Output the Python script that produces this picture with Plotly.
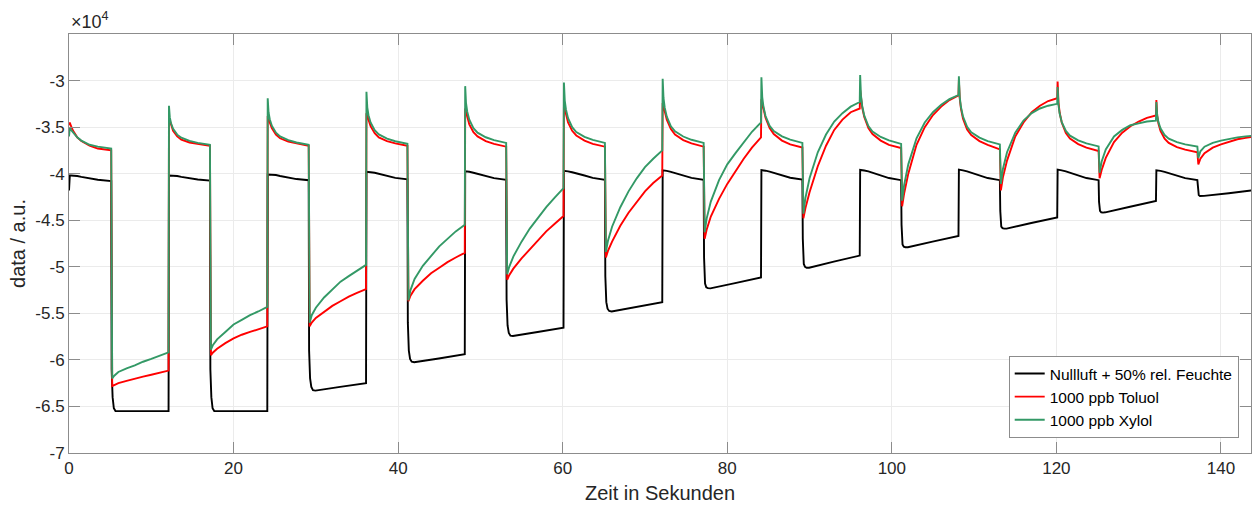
import plotly.graph_objects as go

# ---------------- data (values in units of 1e4 a.u.) ----------------
# switching times (s)
high_start = [0.0, 12.15, 24.15, 36.15, 48.15, 60.15, 72.15, 84.15, 96.15, 108.15, 120.15, 132.15]
t_drop = [5.15, 17.15, 29.15, 41.15, 53.15, 65.15, 77.15, 89.15, 101.15, 113.15, 125.15, 137.15]
x_max = 143.65

# sample offsets inside each phase (s)
high_offsets = [0, 0.1, 0.25, 0.5, 1, 1.5, 2.5, 3.5]          # last sample taken at the drop
low_offsets = [0.1, 0.35, 0.85, 1.85, 2.85, 3.85, 4.85, 5.85, 6.95]
black_low_offsets = [0.03, 0.15, 0.3, 0.5, 0.8, 3.8, 6.95]

# Nullluft + 50% rel. Feuchte
black_high = [
    [-4.18, -4.02, -4.02, -4.02, -4.025, -4.035, -4.05, -4.065, -4.08],
    [-4.02, -4.02, -4.02, -4.02, -4.025, -4.035, -4.05, -4.062, -4.075],
    [-4.01, -4.01, -4.01, -4.01, -4.015, -4.025, -4.045, -4.058, -4.07],
    [-3.98, -3.98, -3.982, -3.985, -3.99, -4.00, -4.025, -4.045, -4.06],
    [-3.975, -3.975, -3.977, -3.98, -3.99, -4.00, -4.025, -4.048, -4.065],
    [-3.97, -3.97, -3.972, -3.975, -3.985, -3.995, -4.02, -4.045, -4.065],
    [-3.965, -3.965, -3.967, -3.97, -3.98, -3.992, -4.02, -4.045, -4.065],
    [-3.962, -3.962, -3.964, -3.968, -3.978, -3.99, -4.018, -4.044, -4.064],
    [-3.96, -3.96, -3.962, -3.966, -3.976, -3.99, -4.02, -4.047, -4.07],
    [-3.957, -3.957, -3.96, -3.964, -3.975, -3.99, -4.02, -4.047, -4.07],
    [-3.957, -3.957, -3.96, -3.964, -3.975, -3.99, -4.02, -4.047, -4.07],
    [-3.964, -3.964, -3.966, -3.97, -3.98, -3.993, -4.022, -4.048, -4.07],
]
black_low = [
    [-6.10, -6.40, -6.52, -6.55, -6.55, -6.55, -6.55],
    [-6.10, -6.40, -6.52, -6.55, -6.55, -6.55, -6.55],
    [-5.90, -6.20, -6.29, -6.325, -6.33, -6.29, -6.25],
    [-5.60, -5.90, -5.99, -6.02, -6.025, -5.985, -5.94],
    [-5.35, -5.63, -5.71, -5.74, -5.743, -5.70, -5.654],
    [-5.10, -5.38, -5.45, -5.475, -5.48, -5.43, -5.38],
    [-4.90, -5.18, -5.22, -5.23, -5.232, -5.175, -5.114],
    [-4.70, -4.97, -5.00, -5.01, -5.01, -4.945, -4.88],
    [-4.55, -4.76, -4.785, -4.79, -4.79, -4.73, -4.67],
    [-4.40, -4.57, -4.585, -4.59, -4.59, -4.53, -4.47],
    [-4.30, -4.40, -4.415, -4.418, -4.415, -4.355, -4.293],
    [-4.15, -4.23, -4.24, -4.24, -4.238, -4.21, -4.175],
]

# 1000 ppb Toluol
toluol_high = [
    [-3.48, -3.45, -3.49, -3.54, -3.61, -3.65, -3.70, -3.73, -3.75],
    [-3.40, -3.43, -3.48, -3.54, -3.60, -3.635, -3.665, -3.68, -3.70],
    [-3.38, -3.40, -3.45, -3.51, -3.58, -3.62, -3.655, -3.675, -3.70],
    [-3.35, -3.37, -3.42, -3.49, -3.565, -3.61, -3.65, -3.675, -3.70],
    [-3.30, -3.33, -3.39, -3.47, -3.555, -3.60, -3.65, -3.68, -3.71],
    [-3.27, -3.30, -3.36, -3.45, -3.54, -3.59, -3.645, -3.68, -3.71],
    [-3.24, -3.27, -3.33, -3.42, -3.52, -3.58, -3.64, -3.675, -3.71],
    [-3.20, -3.24, -3.30, -3.40, -3.51, -3.575, -3.645, -3.685, -3.72],
    [-3.10, -3.20, -3.29, -3.39, -3.51, -3.575, -3.645, -3.69, -3.725],
    [-3.00, -3.19, -3.30, -3.41, -3.525, -3.585, -3.65, -3.69, -3.74],
    [-3.01, -3.234, -3.346, -3.451, -3.563, -3.623, -3.682, -3.72, -3.757],
    [-3.21, -3.378, -3.462, -3.54, -3.624, -3.669, -3.714, -3.742, -3.77],
]
toluol_low = [
    [-6.28, -6.27, -6.25, -6.225, -6.20, -6.18, -6.16, -6.14, -6.115],
    [-5.95, -5.92, -5.88, -5.82, -5.77, -5.73, -5.70, -5.67, -5.64],
    [-5.64, -5.60, -5.55, -5.48, -5.42, -5.37, -5.32, -5.28, -5.24],
    [-5.37, -5.31, -5.24, -5.15, -5.07, -5.01, -4.95, -4.90, -4.85],
    [-5.14, -5.09, -5.02, -4.91, -4.81, -4.71, -4.62, -4.54, -4.455],
    [-4.90, -4.83, -4.73, -4.56, -4.42, -4.30, -4.19, -4.10, -4.02],
    [-4.70, -4.60, -4.46, -4.27, -4.11, -3.97, -3.84, -3.72, -3.61],
    [-4.48, -4.37, -4.20, -3.92, -3.70, -3.53, -3.42, -3.34, -3.30],
    [-4.35, -4.21, -4.00, -3.69, -3.50, -3.37, -3.28, -3.21, -3.16],
    [-4.18, -4.04, -3.86, -3.60, -3.45, -3.34, -3.27, -3.22, -3.19],
    [-4.05, -3.96, -3.83, -3.66, -3.56, -3.49, -3.44, -3.40, -3.375],
    [-3.90, -3.84, -3.78, -3.72, -3.685, -3.655, -3.63, -3.615, -3.60],
]

# 1000 ppb Xylol
xylol_high = [
    [-3.60, -3.50, -3.53, -3.56, -3.61, -3.645, -3.69, -3.71, -3.73],
    [-3.27, -3.396, -3.459, -3.518, -3.581, -3.614, -3.648, -3.669, -3.69],
    [-3.19, -3.34, -3.415, -3.485, -3.56, -3.60, -3.64, -3.665, -3.69],
    [-3.12, -3.288, -3.372, -3.45, -3.534, -3.579, -3.624, -3.652, -3.68],
    [-3.06, -3.243, -3.335, -3.42, -3.511, -3.56, -3.609, -3.64, -3.67],
    [-3.02, -3.215, -3.313, -3.404, -3.501, -3.553, -3.605, -3.638, -3.67],
    [-2.98, -3.187, -3.291, -3.387, -3.491, -3.546, -3.601, -3.636, -3.67],
    [-2.965, -3.177, -3.282, -3.381, -3.487, -3.543, -3.60, -3.635, -3.67],
    [-2.94, -3.162, -3.273, -3.377, -3.488, -3.547, -3.606, -3.643, -3.68],
    [-2.955, -3.175, -3.284, -3.387, -3.496, -3.555, -3.613, -3.65, -3.686],
    [-3.07, -3.261, -3.357, -3.446, -3.541, -3.592, -3.643, -3.675, -3.707],
    [-3.23, -3.374, -3.446, -3.513, -3.585, -3.624, -3.662, -3.686, -3.71],
]
xylol_low = [
    [-6.20, -6.17, -6.13, -6.09, -6.06, -6.02, -5.99, -5.955, -5.92],
    [-5.89, -5.84, -5.78, -5.70, -5.62, -5.57, -5.52, -5.48, -5.43],
    [-5.60, -5.52, -5.44, -5.33, -5.24, -5.16, -5.10, -5.04, -4.98],
    [-5.36, -5.25, -5.13, -4.99, -4.88, -4.78, -4.70, -4.62, -4.55],
    [-5.08, -5.00, -4.89, -4.73, -4.59, -4.47, -4.36, -4.26, -4.155],
    [-4.84, -4.72, -4.57, -4.36, -4.19, -4.05, -3.93, -3.84, -3.75],
    [-4.63, -4.48, -4.30, -4.07, -3.90, -3.78, -3.66, -3.55, -3.45],
    [-4.43, -4.26, -4.05, -3.77, -3.58, -3.44, -3.35, -3.28, -3.23],
    [-4.29, -4.12, -3.90, -3.62, -3.45, -3.34, -3.26, -3.20, -3.155],
    [-4.11, -3.95, -3.77, -3.56, -3.43, -3.35, -3.30, -3.27, -3.25],
    [-3.99, -3.87, -3.74, -3.60, -3.53, -3.48, -3.46, -3.44, -3.43],
    [-3.83, -3.76, -3.71, -3.67, -3.645, -3.625, -3.61, -3.60, -3.59],
]

series_names = ["Nullluft + 50% rel. Feuchte", "1000 ppb Toluol", "1000 ppb Xylol"]
series_colors = ["#000000", "#ff0000", "#339966"]
x_ticks = [0, 20, 40, 60, 80, 100, 120, 140]
y_ticks = [-7, -6.5, -6, -5.5, -5, -4.5, -4, -3.5, -3]
y_ticklabels = ["-7", "-6.5", "-6", "-5.5", "-5", "-4.5", "-4", "-3.5", "-3"]


def assemble(high_vals, low_vals, low_offs):
    t, v = [], []
    for k in range(len(high_start)):
        t += [high_start[k] + o for o in high_offsets] + [t_drop[k] - 0.02]
        v += high_vals[k]
        t += [t_drop[k] + o for o in low_offs]
        v += low_vals[k]
    return t, v


curves = [
    assemble(black_high, black_low, black_low_offsets),
    assemble(toluol_high, toluol_low, low_offsets),
    assemble(xylol_high, xylol_low, low_offsets),
]

font_family = "Liberation Sans, Arial, Helvetica, sans-serif"
axis_col = "#8c8c8c"
text_col = "#262626"

fig = go.Figure()
for (t, v), name, col in zip(curves, series_names, series_colors):
    fig.add_trace(go.Scatter(x=t, y=v, mode="lines", name=name,
                             line=dict(color=col, width=1.9)))

fig.update_layout(
    width=1252, height=506,
    margin=dict(l=69, r=1, t=34, b=53),
    paper_bgcolor="white", plot_bgcolor="white",
    font=dict(family=font_family, color=text_col, size=17),
    showlegend=True,
    legend=dict(x=0.9896, y=0.036, xanchor="right", yanchor="bottom",
                bgcolor="white", bordercolor="#8c8c8c", borderwidth=1,
                font=dict(size=15.5, color="#000000"), tracegroupgap=0,
                itemwidth=30),
    xaxis=dict(range=[0, x_max], tickvals=x_ticks, ticks="inside", ticklen=11,
               tickcolor=axis_col, showline=True, linecolor=axis_col, linewidth=1,
               mirror="ticks", showgrid=True, gridcolor="#ebebeb", zeroline=False,
               tickfont=dict(size=17, color=text_col),
               title=dict(text="Zeit in Sekunden", font=dict(size=20, color=text_col), standoff=8)),
    yaxis=dict(range=[-7, -2.5], tickvals=y_ticks, ticktext=y_ticklabels,
               ticks="inside", ticklen=11, tickcolor=axis_col,
               showline=True, linecolor=axis_col, linewidth=1, mirror="ticks",
               showgrid=True, gridcolor="#ebebeb", zeroline=False,
               tickfont=dict(size=17, color=text_col),
               title=dict(text="data / a.u.", font=dict(size=20, color=text_col), standoff=4)),
    annotations=[dict(text="×10<sup>4</sup>", xref="paper", yref="paper", x=0, y=1,
                      xanchor="left", yanchor="bottom", showarrow=False,
                      font=dict(size=18, color=text_col), yshift=0)],
)

fig.write_html(
    "out.html",
    config={"displayModeBar": False},
    post_script="document.body.style.margin='0';document.body.style.padding='0';"
                "document.body.style.overflow='hidden';",
)
